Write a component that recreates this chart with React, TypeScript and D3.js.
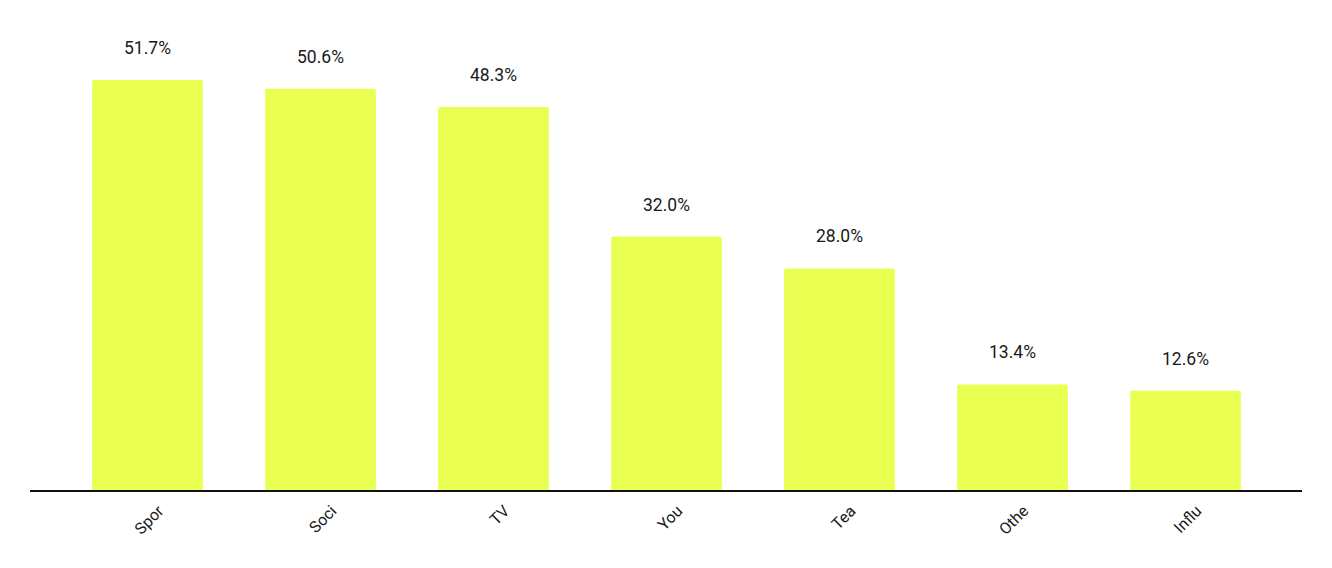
import React from "react";
import * as d3 from "d3";

const categories = ["Spor", "Soci", "TV", "You", "Tea", "Othe", "Influ"];
const values = [51.7, 50.6, 48.3, 32.0, 28.0, 13.4, 12.6];

const W = 1332;
const H = 568;

export default function App() {
  const x = d3.scaleBand<string>().domain(categories).range([61, 1272]).paddingInner(0.36).paddingOuter(0.18);
  const y = d3.scaleLinear().domain([0, 60]).range([491, 14]);
  return (
    <svg width={W} height={H} style={{ position: "absolute", left: 0, top: 0, fontFamily: "Roboto, sans-serif" }}>
      <rect width={W} height={H} fill="#fff" />
      {categories.map((c, i) => (
        <g key={c}>
          <rect x={x(c)} y={y(values[i])} width={x.bandwidth()} height={y(0) - y(values[i])} fill="#E9FF52" rx={2} />
          <text x={(x(c) as number) + x.bandwidth() / 2} y={y(values[i]) - 26} textAnchor="middle" fontSize={17.5} fill="#1a1a1a">
            {values[i].toFixed(1)}%
          </text>
          <text
            transform={`translate(${(x(c) as number) + x.bandwidth() / 2 + 9},${504}) rotate(-45)`}
            textAnchor="end"
            dy="0.71em"
            fontSize={16}
            fill="#1a1a1a"
          >
            {c}
          </text>
        </g>
      ))}
      <line x1={30} x2={1302} y1={y(0)} y2={y(0)} stroke="#111" strokeWidth={2} />
    </svg>
  );
}
